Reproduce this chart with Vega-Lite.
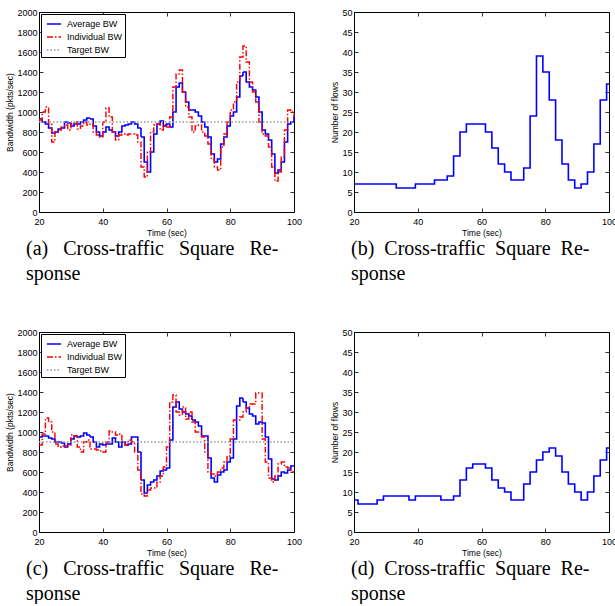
{
  "$schema": "https://vega.github.io/schema/vega-lite/v6.json",
  "background": "white",
  "padding": {"left": 5, "top": 7, "right": 0, "bottom": 0},
  "datasets": {
    "a": [
      {"t":20,"avg":930,"ind":920,"tgt":900},{"t":21,"avg":900,"ind":1000,"tgt":900},{"t":22,"avg":880,"ind":1050,"tgt":900},{"t":23,"avg":840,"ind":880,"tgt":900},{"t":24,"avg":790,"ind":700,"tgt":900},{"t":25,"avg":800,"ind":800,"tgt":900},{"t":26,"avg":830,"ind":820,"tgt":900},{"t":27,"avg":840,"ind":850,"tgt":900},{"t":28,"avg":900,"ind":870,"tgt":900},{"t":29,"avg":890,"ind":820,"tgt":900},
      {"t":30,"avg":860,"ind":880,"tgt":900},{"t":31,"avg":880,"ind":900,"tgt":900},{"t":32,"avg":880,"ind":830,"tgt":900},{"t":33,"avg":900,"ind":860,"tgt":900},{"t":34,"avg":920,"ind":900,"tgt":900},{"t":35,"avg":940,"ind":870,"tgt":900},{"t":36,"avg":930,"ind":880,"tgt":900},{"t":37,"avg":860,"ind":800,"tgt":900},{"t":38,"avg":800,"ind":770,"tgt":900},{"t":39,"avg":760,"ind":750,"tgt":900},
      {"t":40,"avg":800,"ind":900,"tgt":900},{"t":41,"avg":850,"ind":1040,"tgt":900},{"t":42,"avg":820,"ind":950,"tgt":900},{"t":43,"avg":800,"ind":800,"tgt":900},{"t":44,"avg":760,"ind":720,"tgt":900},{"t":45,"avg":800,"ind":770,"tgt":900},{"t":46,"avg":860,"ind":780,"tgt":900},{"t":47,"avg":870,"ind":770,"tgt":900},{"t":48,"avg":880,"ind":780,"tgt":900},{"t":49,"avg":900,"ind":780,"tgt":900},
      {"t":50,"avg":880,"ind":770,"tgt":900},{"t":51,"avg":840,"ind":700,"tgt":900},{"t":52,"avg":750,"ind":450,"tgt":900},{"t":53,"avg":500,"ind":350,"tgt":900},{"t":54,"avg":400,"ind":600,"tgt":900},{"t":55,"avg":600,"ind":800,"tgt":900},{"t":56,"avg":780,"ind":870,"tgt":900},{"t":57,"avg":880,"ind":880,"tgt":900},{"t":58,"avg":910,"ind":820,"tgt":900},{"t":59,"avg":860,"ind":870,"tgt":900},
      {"t":60,"avg":880,"ind":850,"tgt":900},{"t":61,"avg":850,"ind":950,"tgt":900},{"t":62,"avg":1000,"ind":1250,"tgt":900},{"t":63,"avg":1250,"ind":1380,"tgt":900},{"t":64,"avg":1290,"ind":1420,"tgt":900},{"t":65,"avg":1200,"ind":1200,"tgt":900},{"t":66,"avg":1100,"ind":1050,"tgt":900},{"t":67,"avg":1020,"ind":950,"tgt":900},{"t":68,"avg":1020,"ind":800,"tgt":900},{"t":69,"avg":1000,"ind":860,"tgt":900},
      {"t":70,"avg":960,"ind":870,"tgt":900},{"t":71,"avg":900,"ind":800,"tgt":900},{"t":72,"avg":850,"ind":760,"tgt":900},{"t":73,"avg":750,"ind":680,"tgt":900},{"t":74,"avg":580,"ind":530,"tgt":900},{"t":75,"avg":500,"ind":450,"tgt":900},{"t":76,"avg":530,"ind":420,"tgt":900},{"t":77,"avg":680,"ind":650,"tgt":900},{"t":78,"avg":750,"ind":780,"tgt":900},{"t":79,"avg":860,"ind":900,"tgt":900},
      {"t":80,"avg":960,"ind":1020,"tgt":900},{"t":81,"avg":1000,"ind":1100,"tgt":900},{"t":82,"avg":1150,"ind":1300,"tgt":900},{"t":83,"avg":1360,"ind":1550,"tgt":900},{"t":84,"avg":1400,"ind":1660,"tgt":900},{"t":85,"avg":1300,"ind":1500,"tgt":900},{"t":86,"avg":1250,"ind":1300,"tgt":900},{"t":87,"avg":1220,"ind":1200,"tgt":900},{"t":88,"avg":1150,"ind":1100,"tgt":900},{"t":89,"avg":1000,"ind":900,"tgt":900},
      {"t":90,"avg":820,"ind":780,"tgt":900},{"t":91,"avg":780,"ind":760,"tgt":900},{"t":92,"avg":720,"ind":650,"tgt":900},{"t":93,"avg":580,"ind":450,"tgt":900},{"t":94,"avg":390,"ind":310,"tgt":900},{"t":95,"avg":420,"ind":400,"tgt":900},{"t":96,"avg":500,"ind":550,"tgt":900},{"t":97,"avg":700,"ind":820,"tgt":900},{"t":98,"avg":880,"ind":1020,"tgt":900},{"t":99,"avg":900,"ind":1000,"tgt":900},
      {"t":100,"avg":960,"ind":950,"tgt":900}
    ],
    "c": [
      {"t":20,"avg":950,"ind":870,"tgt":900},{"t":21,"avg":960,"ind":980,"tgt":900},{"t":22,"avg":960,"ind":1140,"tgt":900},{"t":23,"avg":940,"ind":1100,"tgt":900},{"t":24,"avg":930,"ind":1000,"tgt":900},{"t":25,"avg":900,"ind":880,"tgt":900},{"t":26,"avg":900,"ind":850,"tgt":900},{"t":27,"avg":890,"ind":860,"tgt":900},{"t":28,"avg":850,"ind":860,"tgt":900},{"t":29,"avg":880,"ind":870,"tgt":900},
      {"t":30,"avg":930,"ind":970,"tgt":900},{"t":31,"avg":960,"ind":960,"tgt":900},{"t":32,"avg":950,"ind":850,"tgt":900},{"t":33,"avg":960,"ind":800,"tgt":900},{"t":34,"avg":990,"ind":900,"tgt":900},{"t":35,"avg":970,"ind":920,"tgt":900},{"t":36,"avg":950,"ind":830,"tgt":900},{"t":37,"avg":900,"ind":830,"tgt":900},{"t":38,"avg":850,"ind":820,"tgt":900},{"t":39,"avg":880,"ind":810,"tgt":900},
      {"t":40,"avg":870,"ind":800,"tgt":900},{"t":41,"avg":880,"ind":900,"tgt":900},{"t":42,"avg":880,"ind":1010,"tgt":900},{"t":43,"avg":940,"ind":1000,"tgt":900},{"t":44,"avg":900,"ind":970,"tgt":900},{"t":45,"avg":850,"ind":980,"tgt":900},{"t":46,"avg":900,"ind":900,"tgt":900},{"t":47,"avg":870,"ind":870,"tgt":900},{"t":48,"avg":880,"ind":920,"tgt":900},{"t":49,"avg":950,"ind":900,"tgt":900},
      {"t":50,"avg":950,"ind":800,"tgt":900},{"t":51,"avg":800,"ind":620,"tgt":900},{"t":52,"avg":520,"ind":380,"tgt":900},{"t":53,"avg":390,"ind":360,"tgt":900},{"t":54,"avg":470,"ind":420,"tgt":900},{"t":55,"avg":500,"ind":440,"tgt":900},{"t":56,"avg":520,"ind":440,"tgt":900},{"t":57,"avg":560,"ind":500,"tgt":900},{"t":58,"avg":610,"ind":560,"tgt":900},{"t":59,"avg":620,"ind":650,"tgt":900},
      {"t":60,"avg":640,"ind":850,"tgt":900},{"t":61,"avg":920,"ind":1300,"tgt":900},{"t":62,"avg":1250,"ind":1370,"tgt":900},{"t":63,"avg":1300,"ind":1200,"tgt":900},{"t":64,"avg":1230,"ind":1170,"tgt":900},{"t":65,"avg":1200,"ind":1250,"tgt":900},{"t":66,"avg":1180,"ind":1130,"tgt":900},{"t":67,"avg":1160,"ind":1200,"tgt":900},{"t":68,"avg":1120,"ind":1100,"tgt":900},{"t":69,"avg":1100,"ind":1000,"tgt":900},
      {"t":70,"avg":1060,"ind":1000,"tgt":900},{"t":71,"avg":960,"ind":950,"tgt":900},{"t":72,"avg":960,"ind":800,"tgt":900},{"t":73,"avg":740,"ind":600,"tgt":900},{"t":74,"avg":540,"ind":580,"tgt":900},{"t":75,"avg":500,"ind":560,"tgt":900},{"t":76,"avg":570,"ind":600,"tgt":900},{"t":77,"avg":600,"ind":640,"tgt":900},{"t":78,"avg":620,"ind":700,"tgt":900},{"t":79,"avg":700,"ind":760,"tgt":900},
      {"t":80,"avg":740,"ind":930,"tgt":900},{"t":81,"avg":930,"ind":1120,"tgt":900},{"t":82,"avg":1260,"ind":1120,"tgt":900},{"t":83,"avg":1340,"ind":1150,"tgt":900},{"t":84,"avg":1300,"ind":1200,"tgt":900},{"t":85,"avg":1240,"ind":1250,"tgt":900},{"t":86,"avg":1180,"ind":1280,"tgt":900},{"t":87,"avg":1160,"ind":1280,"tgt":900},{"t":88,"avg":1080,"ind":1390,"tgt":900},{"t":89,"avg":1100,"ind":1390,"tgt":900},
      {"t":90,"avg":1090,"ind":930,"tgt":900},{"t":91,"avg":950,"ind":700,"tgt":900},{"t":92,"avg":730,"ind":540,"tgt":900},{"t":93,"avg":530,"ind":500,"tgt":900},{"t":94,"avg":520,"ind":560,"tgt":900},{"t":95,"avg":560,"ind":680,"tgt":900},{"t":96,"avg":600,"ind":700,"tgt":900},{"t":97,"avg":590,"ind":650,"tgt":900},{"t":98,"avg":620,"ind":640,"tgt":900},{"t":99,"avg":660,"ind":600,"tgt":900},
      {"t":100,"avg":660,"ind":600,"tgt":900}
    ],
    "b": [
      {"t":20,"n":7},{"t":33.25,"n":6},{"t":39.25,"n":7},{"t":45.25,"n":8},{"t":49.25,"n":9},{"t":51.25,"n":14},{"t":53.25,"n":20},{"t":55.25,"n":22},{"t":61.25,"n":20},{"t":63.25,"n":16},{"t":65.25,"n":12},{"t":67.25,"n":10},{"t":69.25,"n":8},{"t":73.25,"n":11},{"t":75.25,"n":24},{"t":77.25,"n":39},{"t":79.25,"n":35},{"t":81.25,"n":28},{"t":83.25,"n":18},{"t":85.25,"n":12},{"t":87.25,"n":8},{"t":89.25,"n":6},{"t":91.25,"n":7},{"t":93.25,"n":10},{"t":95.25,"n":17},{"t":97.25,"n":28},{"t":99.25,"n":32},{"t":100,"n":32}
    ],
    "d": [
      {"t":20,"n":8},{"t":21.25,"n":7},{"t":27.25,"n":8},{"t":29.25,"n":9},{"t":37.25,"n":8},{"t":39.25,"n":9},{"t":47.25,"n":8},{"t":51.25,"n":9},{"t":53.25,"n":13},{"t":55.25,"n":16},{"t":57.25,"n":17},{"t":61.25,"n":16},{"t":63.25,"n":13},{"t":65.25,"n":11},{"t":67.25,"n":10},{"t":69.25,"n":8},{"t":73.25,"n":12},{"t":75.25,"n":15},{"t":77.25,"n":18},{"t":79.25,"n":20},{"t":81.25,"n":21},{"t":83.25,"n":19},{"t":85.25,"n":15},{"t":87.25,"n":12},{"t":89.25,"n":10},{"t":91.25,"n":8},{"t":93.25,"n":10},{"t":95.25,"n":14},{"t":97.25,"n":18},{"t":99.25,"n":21},{"t":100,"n":21}
    ]
  },
  "vconcat": [
    {
      "hconcat": [
        {
          "width": 255, "height": 200,
          "data": {"name": "a"},
          "transform": [{"fold": ["avg", "ind", "tgt"], "as": ["series", "bw"]}],
          "title": {"text": ["(a)\u00a0\u00a0\u00a0Cross-traffic\u00a0\u00a0\u00a0Square\u00a0\u00a0\u00a0Re-", "sponse"], "dx": -13},
          "layer": [
            {
              "mark": {"type": "line", "interpolate": "step-after"},
              "encoding": {
                "x": {"field": "t", "type": "quantitative", "scale": {"domain": [20, 100]}, "axis": {"values": [20, 40, 60, 80, 100], "title": "Time (sec)", "labelPadding": 9}},
                "y": {"field": "bw", "type": "quantitative", "scale": {"domain": [0, 2000]}, "axis": {"values": [0, 200, 400, 600, 800, 1000, 1200, 1400, 1600, 1800, 2000], "title": "Bandwidth (pkts/sec)"}},
                "color": {"field": "series", "type": "nominal", "scale": {"domain": ["avg", "ind", "tgt"], "range": ["#0000ff", "#ff0000", "#999999"]}, "legend": {"title": null, "labelExpr": "datum.label == 'avg' ? 'Average BW' : datum.label == 'ind' ? 'Individual BW' : 'Target BW'"}},
                "strokeDash": {"field": "series", "type": "nominal", "scale": {"domain": ["avg", "ind", "tgt"], "range": [[1, 0], [6, 2, 1.5, 2], [1.5, 2]]}, "legend": {"title": null, "labelExpr": "datum.label == 'avg' ? 'Average BW' : datum.label == 'ind' ? 'Individual BW' : 'Target BW'"}},
                "strokeWidth": {"field": "series", "type": "nominal", "scale": {"domain": ["avg", "ind", "tgt"], "range": [1.6, 1.3, 1.3]}, "legend": {"title": null, "labelExpr": "datum.label == 'avg' ? 'Average BW' : datum.label == 'ind' ? 'Individual BW' : 'Target BW'"}},
                "order": {"field": "series", "sort": "descending"}
              }
            },
            {
              "mark": {"type": "point", "opacity": 0},
              "encoding": {
                "x": {"field": "t", "type": "quantitative", "axis": {"orient": "top", "values": [20, 40, 60, 80, 100], "labels": false, "title": null}},
                "y": {"field": "bw", "type": "quantitative", "axis": {"orient": "right", "values": [0, 200, 400, 600, 800, 1000, 1200, 1400, 1600, 1800, 2000], "labels": false, "title": null}}
              }
            }
          ],
          "resolve": {"axis": {"x": "independent", "y": "independent"}}
        },
        {
          "width": 255, "height": 200,
          "data": {"name": "b"},
          "title": {"text": ["(b)\u00a0\u00a0Cross-traffic\u00a0\u00a0Square\u00a0\u00a0Re-", "sponse"], "dx": -3},
          "layer": [
            {
              "mark": {"type": "line", "interpolate": "step-after", "color": "#0000ff", "strokeWidth": 1.6},
              "encoding": {
                "x": {"field": "t", "type": "quantitative", "scale": {"domain": [20, 100]}, "axis": {"values": [20, 40, 60, 80, 100], "title": "Time (sec)", "labelPadding": 9}},
                "y": {"field": "n", "type": "quantitative", "scale": {"domain": [0, 50]}, "axis": {"values": [0, 5, 10, 15, 20, 25, 30, 35, 40, 45, 50], "title": "Number of flows"}}
              }
            },
            {
              "mark": {"type": "point", "opacity": 0},
              "encoding": {
                "x": {"field": "t", "type": "quantitative", "axis": {"orient": "top", "values": [20, 40, 60, 80, 100], "labels": false, "title": null}},
                "y": {"field": "n", "type": "quantitative", "axis": {"orient": "right", "values": [0, 5, 10, 15, 20, 25, 30, 35, 40, 45, 50], "labels": false, "title": null}}
              }
            }
          ],
          "resolve": {"axis": {"x": "independent", "y": "independent"}}
        }
      ],
      "spacing": 60,
      "bounds": "flush",
      "resolve": {"scale": {"color": "independent", "strokeDash": "independent", "strokeWidth": "independent"}, "legend": {"color": "independent", "strokeDash": "independent", "strokeWidth": "independent"}}
    },
    {
      "hconcat": [
        {
          "width": 255, "height": 200,
          "data": {"name": "c"},
          "transform": [{"fold": ["avg", "ind", "tgt"], "as": ["series", "bw"]}],
          "title": {"text": ["(c)\u00a0\u00a0\u00a0Cross-traffic\u00a0\u00a0\u00a0Square\u00a0\u00a0\u00a0Re-", "sponse"], "dx": -13},
          "layer": [
            {
              "mark": {"type": "line", "interpolate": "step-after"},
              "encoding": {
                "x": {"field": "t", "type": "quantitative", "scale": {"domain": [20, 100]}, "axis": {"values": [20, 40, 60, 80, 100], "title": "Time (sec)", "labelPadding": 9}},
                "y": {"field": "bw", "type": "quantitative", "scale": {"domain": [0, 2000]}, "axis": {"values": [0, 200, 400, 600, 800, 1000, 1200, 1400, 1600, 1800, 2000], "title": "Bandwidth (pkts/sec)"}},
                "color": {"field": "series", "type": "nominal", "scale": {"domain": ["avg", "ind", "tgt"], "range": ["#0000ff", "#ff0000", "#999999"]}, "legend": {"title": null, "labelExpr": "datum.label == 'avg' ? 'Average BW' : datum.label == 'ind' ? 'Individual BW' : 'Target BW'"}},
                "strokeDash": {"field": "series", "type": "nominal", "scale": {"domain": ["avg", "ind", "tgt"], "range": [[1, 0], [6, 2, 1.5, 2], [1.5, 2]]}, "legend": {"title": null, "labelExpr": "datum.label == 'avg' ? 'Average BW' : datum.label == 'ind' ? 'Individual BW' : 'Target BW'"}},
                "strokeWidth": {"field": "series", "type": "nominal", "scale": {"domain": ["avg", "ind", "tgt"], "range": [1.6, 1.3, 1.3]}, "legend": {"title": null, "labelExpr": "datum.label == 'avg' ? 'Average BW' : datum.label == 'ind' ? 'Individual BW' : 'Target BW'"}},
                "order": {"field": "series", "sort": "descending"}
              }
            },
            {
              "mark": {"type": "point", "opacity": 0},
              "encoding": {
                "x": {"field": "t", "type": "quantitative", "axis": {"orient": "top", "values": [20, 40, 60, 80, 100], "labels": false, "title": null}},
                "y": {"field": "bw", "type": "quantitative", "axis": {"orient": "right", "values": [0, 200, 400, 600, 800, 1000, 1200, 1400, 1600, 1800, 2000], "labels": false, "title": null}}
              }
            }
          ],
          "resolve": {"axis": {"x": "independent", "y": "independent"}}
        },
        {
          "width": 255, "height": 200,
          "data": {"name": "d"},
          "title": {"text": ["(d)\u00a0\u00a0Cross-traffic\u00a0\u00a0Square\u00a0\u00a0Re-", "sponse"], "dx": -3},
          "layer": [
            {
              "mark": {"type": "line", "interpolate": "step-after", "color": "#0000ff", "strokeWidth": 1.6},
              "encoding": {
                "x": {"field": "t", "type": "quantitative", "scale": {"domain": [20, 100]}, "axis": {"values": [20, 40, 60, 80, 100], "title": "Time (sec)", "labelPadding": 9}},
                "y": {"field": "n", "type": "quantitative", "scale": {"domain": [0, 50]}, "axis": {"values": [0, 5, 10, 15, 20, 25, 30, 35, 40, 45, 50], "title": "Number of flows"}}
              }
            },
            {
              "mark": {"type": "point", "opacity": 0},
              "encoding": {
                "x": {"field": "t", "type": "quantitative", "axis": {"orient": "top", "values": [20, 40, 60, 80, 100], "labels": false, "title": null}},
                "y": {"field": "n", "type": "quantitative", "axis": {"orient": "right", "values": [0, 5, 10, 15, 20, 25, 30, 35, 40, 45, 50], "labels": false, "title": null}}
              }
            }
          ],
          "resolve": {"axis": {"x": "independent", "y": "independent"}}
        }
      ],
      "spacing": 60,
      "bounds": "flush",
      "resolve": {"scale": {"color": "independent", "strokeDash": "independent", "strokeWidth": "independent"}, "legend": {"color": "independent", "strokeDash": "independent", "strokeWidth": "independent"}}
    }
  ],
  "spacing": 320,
  "bounds": "flush",
  "resolve": {"scale": {"color": "independent", "strokeDash": "independent", "strokeWidth": "independent"}, "legend": {"color": "independent", "strokeDash": "independent", "strokeWidth": "independent"}},
  "config": {
    "view": {"stroke": "black", "strokeWidth": 1},
    "axis": {
      "grid": false, "domain": false, "tickColor": "black", "tickSize": -4, "tickWidth": 0.8, "format": "d",
      "labelFont": "Liberation Sans", "labelFontSize": 9, "labelColor": "black", "labelPadding": 6,
      "titleFont": "Liberation Sans", "titleFontSize": 8.5, "titleFontWeight": "normal", "titleColor": "black", "titlePadding": 2,
      "labelFlush": false
    },
    "legend": {
      "orient": "top-left", "offset": 2, "padding": 2, "strokeColor": "black", "fillColor": "white",
      "labelFont": "Liberation Sans", "labelFontSize": 9, "labelColor": "black", "symbolType": "stroke", "symbolSize": 196,
      "rowPadding": -3.5, "labelOffset": 5, "symbolStrokeWidth": 1.5, "symbolOffset": 3
    },
    "title": {
      "orient": "bottom", "anchor": "start", "font": "Liberation Serif", "fontSize": 20, "fontWeight": "normal", "color": "black", "lineHeight": 25, "offset": 2, "frame": "group"
    }
  }
}
